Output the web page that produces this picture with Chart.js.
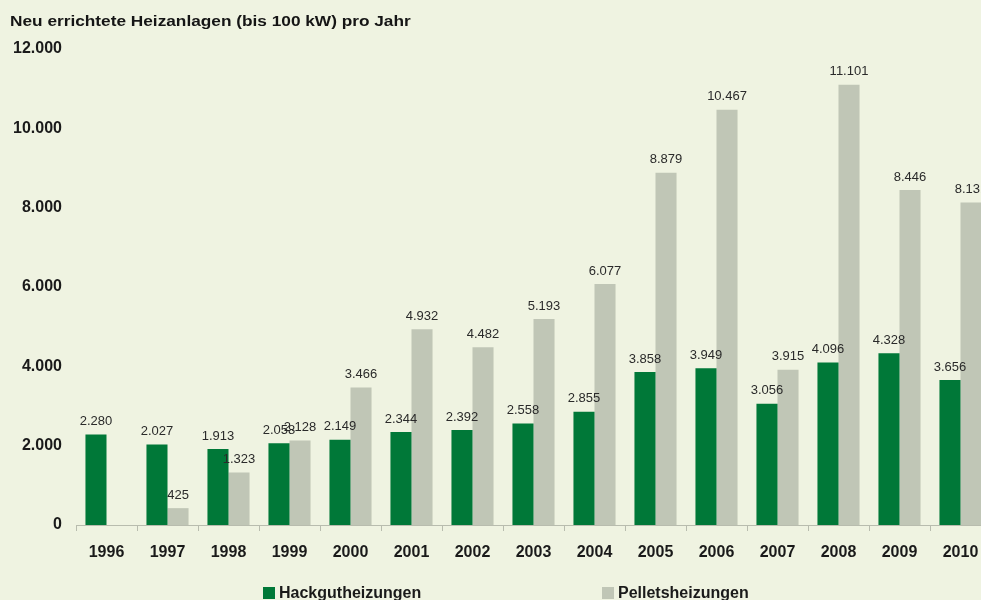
<!DOCTYPE html>
<html>
<head>
<meta charset="utf-8">
<script src="https://cdn.jsdelivr.net/npm/chart.js@4.4.1/dist/chart.umd.min.js"></script>
<style>
html, body { margin: 0; padding: 0; overflow: hidden; background: #eff3e1; }
#wrap { position: relative; width: 991px; height: 600px; }
</style>
</head>
<body>
<div id="wrap"><canvas id="c"></canvas></div>
<script>
const years = ['1996','1997','1998','1999','2000','2001','2002','2003','2004','2005','2006','2007','2008','2009','2010'];
const hackgut = [2280, 2027, 1913, 2058, 2149, 2344, 2392, 2558, 2855, 3858, 3949, 3056, 4096, 4328, 3656];
const pellets = [null, 425, 1323, 2128, 3466, 4932, 4482, 5193, 6077, 8879, 10467, 3915, 11101, 8446, 8131];
const seriesNames = ['Hackgutheizungen', 'Pelletsheizungen'];
const chartTitle = 'Neu errichtete Heizanlagen (bis 100 kW) pro Jahr';
const yTicks = [0, 2000, 4000, 6000, 8000, 10000, 12000];

const FONT = '"Liberation Sans", Arial, sans-serif';
const GREEN = '#007838';
const GREY = '#c0c6b6';

function fmt(v) {
  return String(v).replace(/\B(?=(\d{3})+(?!\d))/g, '.');
}

const extras = {
  id: 'extras',
  afterDatasetsDraw(chart) {
    const ctx = chart.ctx;
    ctx.save();
    ctx.font = '13px ' + FONT;
    ctx.fillStyle = '#2a2a2a';
    ctx.textAlign = 'center';
    ctx.textBaseline = 'middle';
    chart.data.datasets.forEach((ds, di) => {
      const meta = chart.getDatasetMeta(di);
      meta.data.forEach((bar, i) => {
        const v = ds.data[i];
        if (v == null) return;
        ctx.fillText(fmt(v), bar.x, bar.y - 13);
      });
    });
    ctx.restore();
  },
  afterDraw(chart) {
    const ctx = chart.ctx;
    ctx.save();
    // title
    ctx.font = 'bold 15px ' + FONT;
    ctx.fillStyle = '#151515';
    ctx.textAlign = 'left';
    ctx.textBaseline = 'middle';
    ctx.save();
    ctx.translate(10, 22);
    ctx.scale(1.15, 1);
    ctx.fillText(chartTitle, 0, 0);
    ctx.restore();
    // legend
    const items = [{x: 263}, {x: 602}];
    ctx.font = 'bold 16px ' + FONT;
    chart.data.datasets.forEach((ds, di) => {
      const x = items[di].x;
      ctx.fillStyle = ds.backgroundColor;
      ctx.fillRect(x, 587, 12, 12);
      ctx.fillStyle = '#1a1a1a';
      ctx.fillText(ds.label, x + 16, 594);
    });
    ctx.restore();
  }
};

new Chart(document.getElementById('c'), {
  type: 'bar',
  data: {
    labels: years,
    datasets: [
      { label: seriesNames[0], data: hackgut, backgroundColor: GREEN },
      { label: seriesNames[1], data: pellets, backgroundColor: GREY }
    ]
  },
  options: {
    responsive: true,
    maintainAspectRatio: false,
    animation: false,
    layout: { padding: { top: 49, left: 0, right: 0, bottom: 0 } },
    datasets: { bar: { categoryPercentage: 0.69, barPercentage: 1.0 } },
    plugins: {
      legend: { display: false },
      title: { display: false },
      tooltip: { enabled: false }
    },
    scales: {
      x: {
        afterFit(s) { s.height = 75; },
        grid: { display: true, drawOnChartArea: false, drawTicks: true, tickLength: 6, color: '#b8bcae', offset: true },
        border: { display: true, color: '#b8bcae', width: 1 },
        ticks: { color: '#1a1a1a', font: { family: FONT, size: 16, weight: 'bold' }, padding: 12, maxRotation: 0, autoSkip: false }
      },
      y: {
        min: 0, max: 12000,
        afterFit(s) { s.width = 76; },
        afterBuildTicks(s) { s.ticks = yTicks.map(v => ({ value: v })); },
        grid: { display: false, drawTicks: false },
        border: { display: false },
        ticks: { color: '#1a1a1a', font: { family: FONT, size: 16, weight: 'bold' }, padding: 14, callback: v => fmt(v) }
      }
    }
  },
  plugins: [extras]
});
</script>
</body>
</html>
